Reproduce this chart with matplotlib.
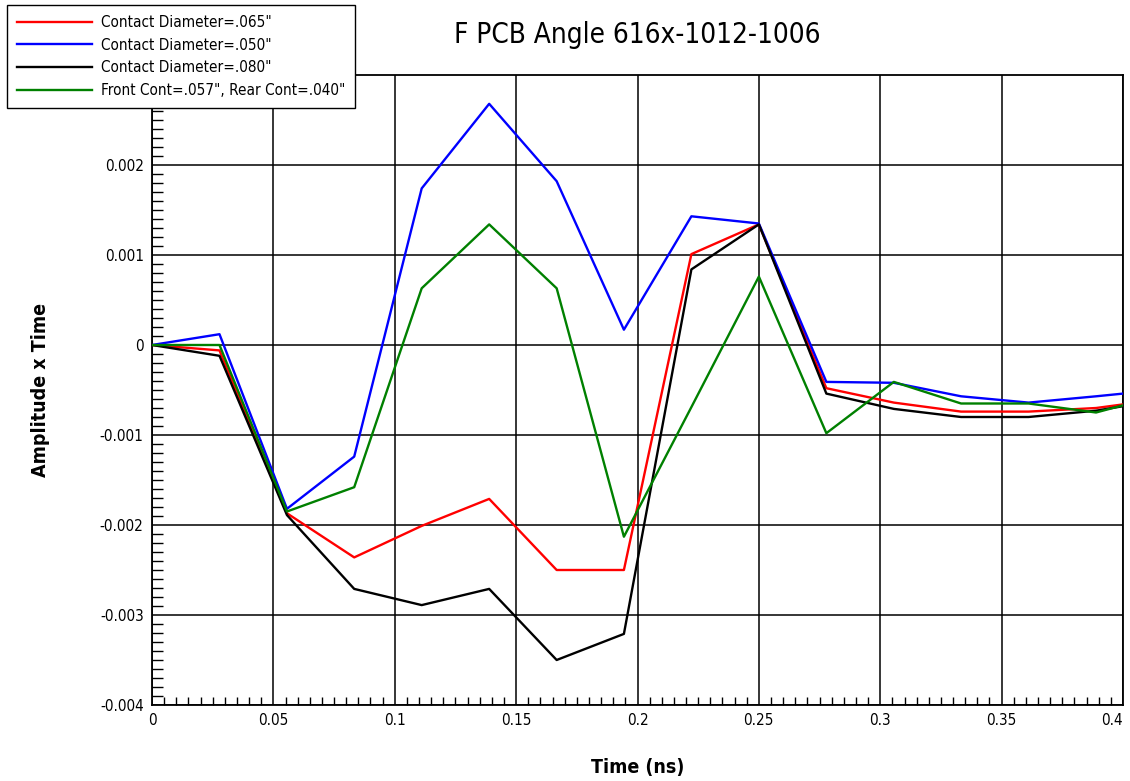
import matplotlib
matplotlib.use("Agg")
import matplotlib.pyplot as plt
from matplotlib.ticker import MultipleLocator

plt.rcParams['font.family'] = ['DejaVu Sans']
plt.rcParams['font.stretch'] = 'condensed'
plt.rcParams['axes.unicode_minus'] = False

time_ns = [0.0, 0.0278, 0.0556, 0.0833, 0.1111, 0.1389, 0.1667, 0.1944,
           0.2222, 0.25, 0.2778, 0.3056, 0.3333, 0.3611, 0.3889, 0.4]

dia_065 = [0, -0.00006, -0.00187, -0.00236, -0.00201, -0.00171, -0.0025, -0.0025,
           0.00101, 0.00134, -0.00048, -0.00064, -0.00074, -0.00074, -0.0007, -0.00066]
dia_050 = [0, 0.00012, -0.00182, -0.00124, 0.00174, 0.00268, 0.00182, 0.00017,
           0.00143, 0.00135, -0.00041, -0.00042, -0.00057, -0.00064, -0.00057, -0.00054]
dia_080 = [0, -0.00012, -0.00189, -0.00271, -0.00289, -0.00271, -0.0035, -0.00321,
           0.00084, 0.00134, -0.00054, -0.00071, -0.0008, -0.0008, -0.00073, -0.00068]
front_rear = [0, 0.0, -0.00185, -0.00158, 0.00063, 0.00134, 0.00063, -0.00213,
              -0.00069, 0.00076, -0.00098, -0.00041, -0.00065, -0.00065, -0.00075, -0.00067]

labels = ['Contact Diameter=.065"', 'Contact Diameter=.050"',
          'Contact Diameter=.080"', 'Front Cont=.057", Rear Cont=.040"']
colors = ['#ff0000', '#0000ff', '#000000', '#008000']

x_ticks = [0, 0.05, 0.1, 0.15, 0.2, 0.25, 0.3, 0.35, 0.4]
x_tick_labels = ['0', '0.05', '0.1', '0.15', '0.2', '0.25', '0.3', '0.35', '0.4']
y_ticks = [-0.004, -0.003, -0.002, -0.001, 0, 0.001, 0.002]
y_tick_labels = ['-0.004', '-0.003', '-0.002', '-0.001', '0', '0.001', '0.002']

fig = plt.figure(figsize=(11.3, 7.81), dpi=100)
ax = fig.add_axes([152/1130, 1-705/781, (1123-152)/1130, (705-75)/781])

series = [dia_065, dia_050, dia_080, front_rear]
handles = []
for s, c, lab in zip(series, colors, labels):
    h, = ax.plot(time_ns, s, color=c, lw=1.7, label=lab, zorder=3)
    handles.append(h)

ax.set_xlim(0, 0.4)
ax.set_ylim(-0.004, 0.003)
ax.set_xticks(x_ticks)
ax.set_xticklabels(x_tick_labels)
ax.set_yticks(y_ticks)
ax.set_yticklabels(y_tick_labels)
ax.xaxis.set_minor_locator(MultipleLocator(0.005))
ax.yaxis.set_minor_locator(MultipleLocator(0.0001))
ax.grid(True, which='major', color='black', lw=1.1)
ax.tick_params(which='both', direction='in', top=False, right=False, labelsize=11, color='black')
ax.tick_params(which='major', length=0, pad=6)
ax.tick_params(which='minor', length=6, width=1)
ax.tick_params(axis='y', which='minor', length=8)
for sp in ax.spines.values():
    sp.set_linewidth(1.3)
    sp.set_color('black')
xt = ax.get_xticklabels()
xt[-1].set_horizontalalignment('right')
xt[-1].set_x(0.4)

ax.set_xlabel('Time (ns)', fontsize=14, fontweight='bold', labelpad=21)
ax.set_ylabel('Amplitude x Time', fontsize=14, fontweight='bold', labelpad=36)
fig.text(637/1130, 1-35/781, 'F PCB Angle 616x-1012-1006', fontsize=20,
         ha='center', va='center')

leg = fig.legend(handles=handles, loc='upper left', bbox_to_anchor=(7/1130, 1-5/781),
                 fontsize=11, frameon=True, fancybox=False, edgecolor='black',
                 framealpha=1, borderaxespad=0, handlelength=4.9, handletextpad=0.6,
                 labelspacing=0.5, borderpad=0.65)
leg.get_frame().set_linewidth(1.0)

fig.savefig('out.png', dpi=100)
